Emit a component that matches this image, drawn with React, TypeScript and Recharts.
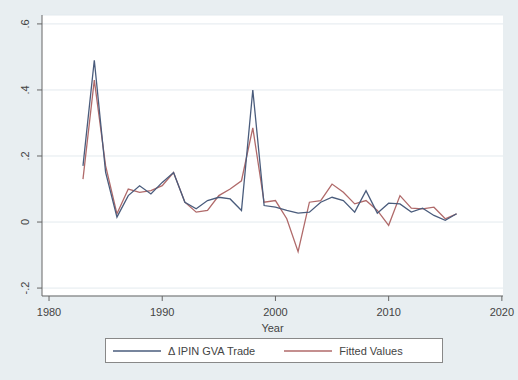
import { LineChart, Line, XAxis, YAxis, CartesianGrid } from "recharts";

const years = [
  1983, 1984, 1985, 1986, 1987, 1988, 1989, 1990, 1991, 1992, 1993, 1994,
  1995, 1996, 1997, 1998, 1999, 2000, 2001, 2002, 2003, 2004, 2005, 2006,
  2007, 2008, 2009, 2010, 2011, 2012, 2013, 2014, 2015, 2016,
];

const actual = [
  0.17, 0.49, 0.15, 0.015, 0.08, 0.11, 0.085, 0.12, 0.15, 0.06, 0.04, 0.065,
  0.075, 0.07, 0.035, 0.4, 0.05, 0.045, 0.035, 0.027, 0.03, 0.06, 0.075,
  0.065, 0.03, 0.095, 0.027, 0.057, 0.055, 0.03, 0.042, 0.02, 0.005, 0.025,
];

const fitted = [
  0.13, 0.43, 0.17, 0.025, 0.1, 0.09, 0.095, 0.11, 0.15, 0.06, 0.03, 0.035,
  0.08, 0.1, 0.125, 0.285, 0.06, 0.065, 0.01, -0.09, 0.06, 0.065, 0.115, 0.09,
  0.055, 0.065, 0.035, -0.01, 0.08, 0.042, 0.04, 0.045, 0.01, 0.025,
];

const xTicks = [1980, 1990, 2000, 2010, 2020];
const yTicks = [-0.2, 0, 0.2, 0.4, 0.6];
const yLabels = ["-.2", "0", ".2", ".4", ".6"];
const seriesNames = ["\u0394 IPIN GVA Trade", "Fitted Values"];

const data = years.map((year, i) => ({
  year,
  actual: actual[i],
  fitted: fitted[i],
}));

const BG = "#e8eef1";
const TEXT = "#444";
const AXIS = "#666";
const ACTUAL_COLOR = "#4a5c7c";
const FITTED_COLOR = "#b06a6a";
const FONT = "'Liberation Sans', Arial, sans-serif";

// Stata-style vertical y labels
function YTick({ x, y, payload }: any) {
  const idx = yTicks.indexOf(payload.value);
  const tx = x - 6;
  return (
    <text
      x={tx}
      y={y}
      transform={`rotate(-90 ${tx} ${y})`}
      textAnchor="middle"
      fontSize={11}
      fill={TEXT}
      fontFamily={FONT}
    >
      {idx >= 0 ? yLabels[idx] : payload.value}
    </text>
  );
}

function XTick({ x, y, payload }: any) {
  return (
    <text
      x={x}
      y={y + 13}
      textAnchor="middle"
      fontSize={11}
      fill={TEXT}
      fontFamily={FONT}
    >
      {payload.value}
    </text>
  );
}

function LegendBox() {
  const colors = [ACTUAL_COLOR, FITTED_COLOR];
  return (
    <div
      style={{
        position: "absolute",
        left: 105,
        top: 338,
        width: 336,
        height: 23,
        border: "1px solid #888",
        background: "#fff",
        display: "flex",
        alignItems: "center",
        fontFamily: FONT,
        fontSize: 11,
        color: TEXT,
      }}
    >
      {seriesNames.map((name, i) => (
        <div
          key={name}
          style={{
            display: "flex",
            alignItems: "center",
            marginLeft: i === 0 ? 7 : 29,
          }}
        >
          <svg width={48} height={4}>
            <line x1={0} x2={48} y1={2} y2={2} stroke={colors[i]} strokeWidth={1.3} />
          </svg>
          <span style={{ marginLeft: 7 }}>{name}</span>
        </div>
      ))}
    </div>
  );
}

export default function App() {
  return (
    <div
      style={{
        position: "absolute",
        left: 0,
        top: 0,
        width: 518,
        height: 380,
        background: BG,
      }}
    >
      <LineChart
        width={518}
        height={380}
        data={data}
        margin={{ top: 15, right: 15, bottom: 44, left: 0 }}
      >
        <CartesianGrid
          vertical={false}
          horizontal
          stroke="#e3eaee"
          strokeWidth={1}
          fill="#fff"
        />
        <XAxis
          dataKey="year"
          type="number"
          domain={[1979.38, 2020.1]}
          ticks={xTicks}
          allowDataOverflow
          height={40}
          stroke={AXIS}
          tickSize={5}
          tick={<XTick />}
          label={{
            value: "Year",
            position: "insideBottom",
            offset: 4,
            fill: TEXT,
            fontSize: 11,
            fontFamily: FONT,
          }}
        />
        <YAxis
          type="number"
          domain={[-0.224, 0.627]}
          ticks={yTicks}
          allowDataOverflow
          width={42}
          stroke={AXIS}
          tickSize={5}
          tick={<YTick />}
        />
        <Line
          type="linear"
          dataKey="fitted"
          name={seriesNames[1]}
          stroke={FITTED_COLOR}
          strokeWidth={1.3}
          dot={false}
          isAnimationActive={false}
        />
        <Line
          type="linear"
          dataKey="actual"
          name={seriesNames[0]}
          stroke={ACTUAL_COLOR}
          strokeWidth={1.3}
          dot={false}
          isAnimationActive={false}
        />
      </LineChart>
      <LegendBox />
    </div>
  );
}
